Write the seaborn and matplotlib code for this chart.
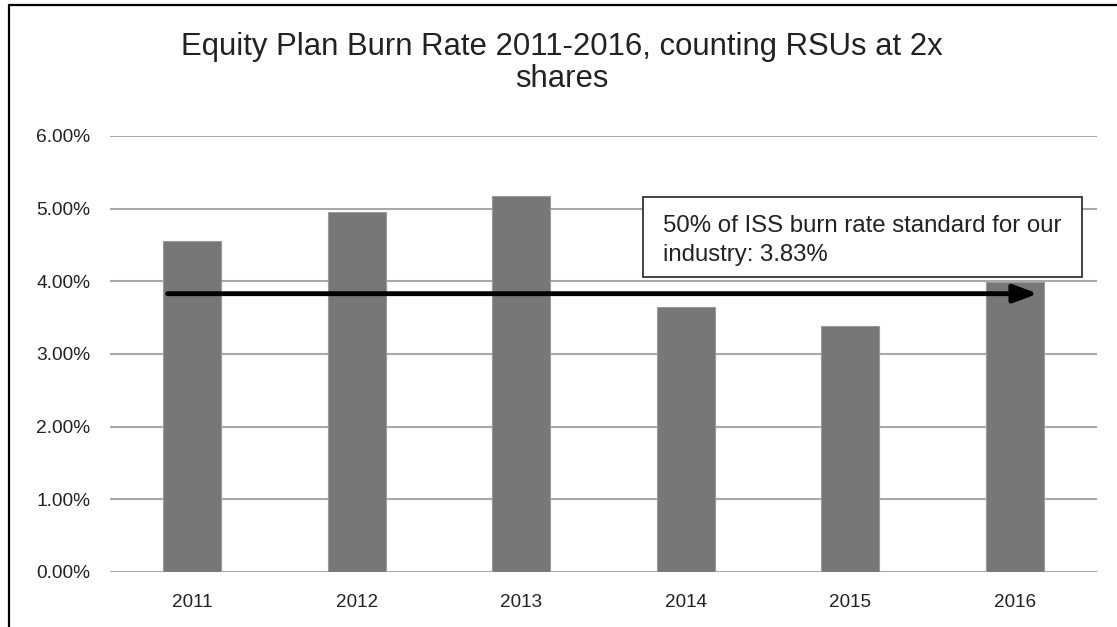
import matplotlib
matplotlib.use("Agg")
import matplotlib.pyplot as plt
from matplotlib.lines import Line2D
from matplotlib.patches import Rectangle
import matplotlib.ticker as mticker
import seaborn as sns

# data
years = ['2011', '2012', '2013', '2014', '2015', '2016']
burn_rate = [0.0455, 0.0495, 0.0517, 0.0365, 0.0339, 0.0399]
iss_half = 0.0383
title = "Equity Plan Burn Rate 2011-2016, counting RSUs at 2x\nshares"
note = "50% of ISS burn rate standard for our\nindustry: 3.83%"

sns.set_theme(style="white")
plt.rcParams['font.family'] = ['Liberation Sans', 'DejaVu Sans']

fig = plt.figure(figsize=(11.17, 6.27), dpi=100)
ax = fig.add_axes([110 / 1117, 1 - 572 / 627, 987 / 1117, 436 / 627])

sns.barplot(x=years, y=burn_rate, color='#777777', saturation=1, width=0.35,
            edgecolor='#9a9a9a', linewidth=0.8, ax=ax, zorder=2)

ax.set_ylim(0, 0.06)
ax.set_xlim(-0.5, 5.5)
ax.yaxis.set_major_locator(mticker.MultipleLocator(0.01))
ax.yaxis.set_major_formatter(mticker.FuncFormatter(lambda v, p: f"{v * 100:.2f}%"))
ax.grid(axis='y', color='#a8a8a8', linewidth=1.5, zorder=0)
ax.set_axisbelow(True)
for s in ax.spines.values():
    s.set_visible(False)
ax.tick_params(axis='y', length=0, labelsize=13.8, colors='#222222', pad=14)
ax.tick_params(axis='x', length=0, labelsize=13.6, colors='#222222', pad=16)
ax.set_xlabel('')
ax.set_ylabel('')

# arrow at the ISS level
ax.annotate('', xy=(5.14, iss_half), xytext=(-0.15, iss_half),
            arrowprops=dict(arrowstyle='-|>,head_length=1.2,head_width=0.45',
                            color='black', lw=3.5, shrinkA=0, shrinkB=0),
            zorder=4)

# note box
ax.add_patch(Rectangle((0.540, 0.677), 0.445, 0.183, transform=ax.transAxes,
                       facecolor='white', edgecolor='#222222', linewidth=1.2,
                       zorder=5, clip_on=False))
ax.text(0.5603, 0.760, note, transform=ax.transAxes, ha='left', va='center',
        fontsize=17.3, color='#222222', linespacing=1.4, zorder=6)

fig.text(0.503, 1 - 63 / 627, title, ha='center', va='center', fontsize=22.4,
         color='#222222', linespacing=1.12)

# outer frame lines (top and left)
fig.add_artist(Line2D([9 / 1117, 1], [1 - 5 / 627, 1 - 5 / 627], color='black', lw=1.6))
fig.add_artist(Line2D([9 / 1117, 9 / 1117], [0, 1 - 5 / 627], color='black', lw=1.6))

fig.savefig("out.png", dpi=100)
